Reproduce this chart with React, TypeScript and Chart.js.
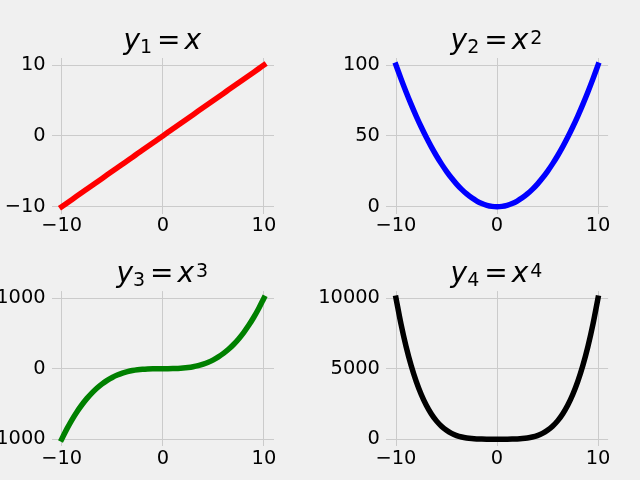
import React, { useEffect, useRef } from "react";
import { Chart, registerables } from "chart.js";

Chart.register(...registerables);

// ---- data ----
const xs = [
  -10, -9.5, -9, -8.5, -8, -7.5, -7, -6.5, -6, -5.5, -5, -4.5, -4, -3.5, -3, -2.5, -2, -1.5, -1, -0.5, 0,
  0.5, 1, 1.5, 2, 2.5, 3, 3.5, 4, 4.5, 5, 5.5, 6, 6.5, 7, 7.5, 8, 8.5, 9, 9.5, 10,
];
const y1 = [
  -10, -9.5, -9, -8.5, -8, -7.5, -7, -6.5, -6, -5.5, -5, -4.5, -4, -3.5, -3, -2.5, -2, -1.5, -1, -0.5, 0,
  0.5, 1, 1.5, 2, 2.5, 3, 3.5, 4, 4.5, 5, 5.5, 6, 6.5, 7, 7.5, 8, 8.5, 9, 9.5, 10,
];
const y2 = [
  100, 90.25, 81, 72.25, 64, 56.25, 49, 42.25, 36, 30.25, 25, 20.25, 16, 12.25, 9, 6.25, 4, 2.25, 1, 0.25, 0,
  0.25, 1, 2.25, 4, 6.25, 9, 12.25, 16, 20.25, 25, 30.25, 36, 42.25, 49, 56.25, 64, 72.25, 81, 90.25, 100,
];
const y3 = [
  -1000, -857.375, -729, -614.125, -512, -421.875, -343, -274.625, -216, -166.375, -125, -91.125, -64, -42.875,
  -27, -15.625, -8, -3.375, -1, -0.125, 0,
  0.125, 1, 3.375, 8, 15.625, 27, 42.875, 64, 91.125, 125, 166.375, 216, 274.625, 343, 421.875, 512, 614.125,
  729, 857.375, 1000,
];
const y4 = [
  10000, 8145.0625, 6561, 5220.0625, 4096, 3164.0625, 2401, 1785.0625, 1296, 915.0625, 625, 410.0625, 256,
  150.0625, 81, 39.0625, 16, 5.0625, 1, 0.0625, 0,
  0.0625, 1, 5.0625, 16, 39.0625, 81, 150.0625, 256, 410.0625, 625, 915.0625, 1296, 1785.0625, 2401, 3164.0625,
  4096, 5220.0625, 6561, 8145.0625, 10000,
];
// title pieces: y_{sub} = x^{sup}
const titleLhs = ["y", "y", "y", "y"];
const titleSub = ["1", "2", "3", "4"];
const titleRhs = ["x", "x", "x", "x"];
const titleSup = ["", "2", "3", "4"];
const xTicks = [-10, 0, 10];
const yTicks1 = [-10, 0, 10];
const yTicks2 = [0, 50, 100];
const yTicks3 = [-1000, 0, 1000];
const yTicks4 = [0, 5000, 10000];
const xRange = [-11, 11];
const yRange1 = [-11, 11];
const yRange2 = [-5, 105];
const yRange3 = [-1100, 1100];
const yRange4 = [-500, 10500];
const colors = ["#ff0000", "#0000ff", "#008000", "#000000"];

const FONT = "'DejaVu Sans', sans-serif";
const CW = 320;
const CH = 240;

type Panel = {
  idx: number;
  left: number;
  top: number;
  area: { l: number; r: number; t: number; b: number };
  values: number[];
  yTicks: number[];
  yRange: number[];
  color: string;
};

const panels: Panel[] = [
  { idx: 0, left: 0, top: 0, area: { l: 51.6, r: 274, t: 58, b: 213.8 }, values: y1, yTicks: yTicks1, yRange: yRange1, color: colors[0] },
  { idx: 1, left: 320, top: 0, area: { l: 65.9, r: 288.1, t: 58, b: 213.8 }, values: y2, yTicks: yTicks2, yRange: yRange2, color: colors[1] },
  { idx: 2, left: 0, top: 240, area: { l: 51.6, r: 274, t: 51.1, b: 206.2 }, values: y3, yTicks: yTicks3, yRange: yRange3, color: colors[2] },
  { idx: 3, left: 320, top: 240, area: { l: 65.9, r: 288.1, t: 51.1, b: 206.2 }, values: y4, yTicks: yTicks4, yRange: yRange4, color: colors[3] },
];

const fmt = (v: number) => String(v).replace("-", "\u2212");

// Draws a mathtext-like title (italic variables, sub/superscripts) above the chart area.
const mathTitlePlugin = {
  id: "mathTitle",
  afterDraw(chart: any, _args: any, opts: any) {
    const i = opts.index as number;
    const ctx = chart.ctx as CanvasRenderingContext2D;
    const area = chart.chartArea;
    const big = 28;
    const small = 19;
    const parts = [
      { t: titleLhs[i], font: `italic ${big}px ${FONT}`, dy: 0, gap: 0 },
      { t: titleSub[i], font: `${small}px ${FONT}`, dy: 4.4, gap: 0 },
      { t: "=", font: `${big}px ${FONT}`, dy: 0, gap: 5 },
      { t: titleRhs[i], font: `italic ${big}px ${FONT}`, dy: 0, gap: 4 },
      { t: titleSup[i], font: `${small}px ${FONT}`, dy: -5, gap: 2 },
    ].filter((p) => p.t !== "");
    ctx.save();
    ctx.fillStyle = "#000000";
    ctx.textBaseline = "alphabetic";
    ctx.textAlign = "left";
    let total = 0;
    const widths: number[] = [];
    parts.forEach((p) => {
      ctx.font = p.font;
      const w = ctx.measureText(p.t).width;
      widths.push(w);
      total += p.gap + w;
    });
    let x = (area.left + area.right) / 2 - total / 2 - 0.5;
    const base = area.top - 9.3;
    parts.forEach((p, k) => {
      x += p.gap;
      ctx.font = p.font;
      ctx.fillText(p.t, x, base + p.dy);
      x += widths[k];
    });
    ctx.restore();
  },
};

function PanelChart({ p }: { p: Panel }) {
  const ref = useRef<HTMLCanvasElement | null>(null);
  useEffect(() => {
    if (!ref.current) return;
    const zeroPad = (s: any) => {
      s.paddingLeft = 0;
      s.paddingRight = 0;
      s.paddingTop = 0;
      s.paddingBottom = 0;
    };
    const chart = new Chart(ref.current, {
      type: "line",
      data: {
        datasets: [
          {
            data: xs.map((x, i) => ({ x, y: p.values[i] })),
            borderColor: p.color,
            borderWidth: 5.5,
            borderCapStyle: "square",
            pointRadius: 0,
            fill: false,
            cubicInterpolationMode: "monotone",
          },
        ],
      },
      plugins: [mathTitlePlugin],
      options: {
        animation: false,
        responsive: false,
        devicePixelRatio: 1,
        layout: { padding: { left: 0, right: CW - p.area.r, top: p.area.t, bottom: 0 } },
        plugins: {
          legend: { display: false },
          tooltip: { enabled: false },
          title: { display: false },
          mathTitle: { index: p.idx },
        } as any,
        scales: {
          x: {
            type: "linear",
            min: xRange[0],
            max: xRange[1],
            border: { display: false },
            grid: { color: "#cbcbcb", lineWidth: 1, drawTicks: false },
            ticks: {
              color: "#000000",
              font: { family: FONT, size: 19.4 },
              padding: 1,
              maxRotation: 0,
              minRotation: 0,
              autoSkip: false,
              callback: (v: any) => fmt(Number(v)),
            },
            afterBuildTicks: (s: any) => {
              s.ticks = xTicks.map((v) => ({ value: v }));
            },
            afterFit: (s: any) => {
              s.height = CH - p.area.b;
              zeroPad(s);
            },
          },
          y: {
            type: "linear",
            min: p.yRange[0],
            max: p.yRange[1],
            border: { display: false },
            grid: { color: "#cbcbcb", lineWidth: 1, drawTicks: false },
            ticks: {
              color: "#000000",
              font: { family: FONT, size: 19.4 },
              padding: 6,
              autoSkip: false,
              callback: (v: any) => fmt(Number(v)),
            },
            afterBuildTicks: (s: any) => {
              s.ticks = p.yTicks.map((v) => ({ value: v }));
            },
            afterFit: (s: any) => {
              s.width = p.area.l;
              zeroPad(s);
            },
          },
        },
      },
    });
    return () => chart.destroy();
  }, [p]);
  return (
    <canvas
      ref={ref}
      width={CW}
      height={CH}
      style={{ position: "absolute", left: p.left, top: p.top, width: CW, height: CH }}
    />
  );
}

export default function App() {
  return (
    <div
      style={{
        position: "fixed",
        left: 0,
        top: 0,
        width: 640,
        height: 480,
        background: "#f0f0f0",
        overflow: "hidden",
      }}
    >
      {panels.map((p, i) => (
        <PanelChart key={i} p={p} />
      ))}
    </div>
  );
}
